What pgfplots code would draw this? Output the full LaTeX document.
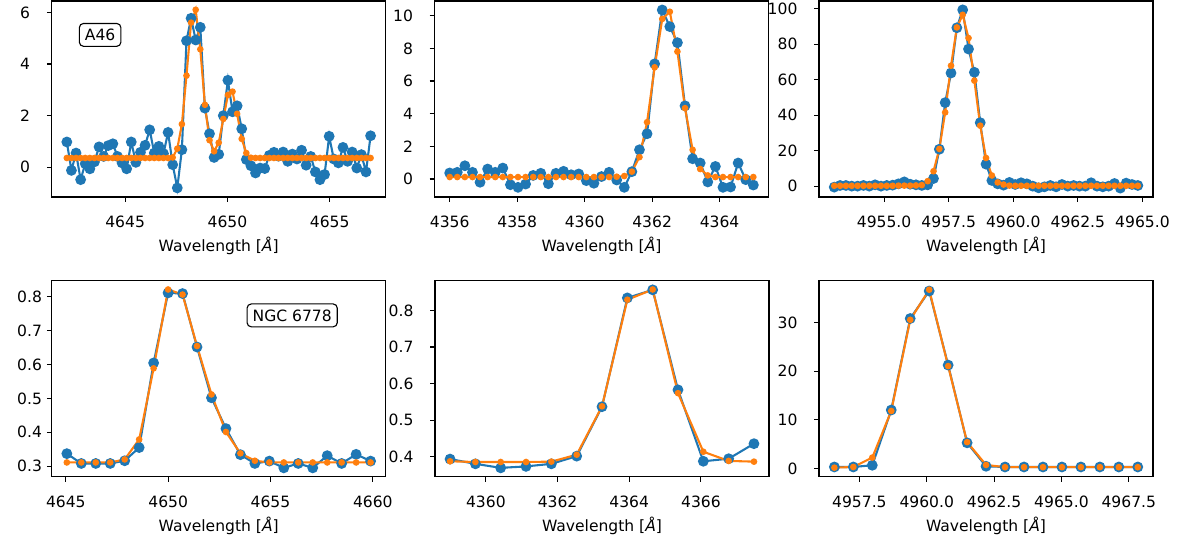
\documentclass[border=0pt]{standalone}
\usepackage{fontspec}
\setmainfont{DejaVu Sans}
\usepackage{pgfplots}
\usepackage{pgfplotstable}
\pgfplotsset{compat=1.18}
\definecolor{c0}{RGB}{31,119,180}
\definecolor{c1}{RGB}{255,127,14}

% observed spectrum (obs) and fitted model (fit)
\pgfplotstableread{
x obs fit
4642.150 0.98 0.36
4642.375 -0.12 0.36
4642.600 0.55 0.36
4642.825 -0.48 0.36
4643.050 0.14 0.36
4643.275 -0.06 0.36
4643.500 0.21 0.36
4643.725 0.79 0.36
4643.950 0.42 0.36
4644.175 0.84 0.36
4644.400 0.91 0.36
4644.625 0.42 0.36
4644.850 0.17 0.36
4645.075 -0.06 0.36
4645.300 0.98 0.36
4645.525 0.19 0.36
4645.750 0.58 0.36
4645.975 0.85 0.36
4646.200 1.45 0.36
4646.425 0.55 0.36
4646.650 0.81 0.36
4646.875 0.53 0.36
4647.100 1.35 0.36
4647.325 0.10 0.38
4647.550 -0.80 0.72
4647.775 0.68 1.67
4648.000 4.90 3.55
4648.225 5.77 5.60
4648.450 4.93 6.10
4648.675 5.42 4.57
4648.900 2.29 2.42
4649.125 1.30 1.05
4649.350 0.38 0.62
4649.575 0.50 0.95
4649.800 2.00 1.87
4650.025 3.37 2.80
4650.250 2.15 2.93
4650.475 2.38 2.07
4650.700 1.49 1.10
4650.925 0.30 0.55
4651.150 0.06 0.37
4651.375 -0.22 0.36
4651.600 -0.03 0.36
4651.825 -0.05 0.36
4652.050 0.46 0.36
4652.275 0.58 0.36
4652.500 0.43 0.36
4652.725 0.59 0.36
4652.950 0.23 0.36
4653.175 0.51 0.36
4653.400 0.32 0.36
4653.625 0.66 0.36
4653.850 0.08 0.36
4654.075 0.42 0.36
4654.300 -0.18 0.36
4654.525 -0.48 0.36
4654.750 -0.28 0.36
4654.975 1.20 0.36
4655.200 0.32 0.36
4655.425 0.17 0.36
4655.650 0.77 0.36
4655.875 0.23 0.36
4656.100 0.59 0.36
4656.325 -0.03 0.36
4656.550 0.49 0.36
4656.775 -0.18 0.36
4657.000 1.22 0.36
}\tabA

\pgfplotstableread{
x obs fit
4356.000 0.37 0.12
4356.225 0.41 0.12
4356.450 0.81 0.12
4356.675 0.41 0.12
4356.900 -0.20 0.12
4357.125 0.61 0.12
4357.350 0.41 0.12
4357.575 0.67 0.12
4357.800 -0.35 0.12
4358.025 -0.51 0.12
4358.250 -0.31 0.12
4358.475 0.22 0.12
4358.700 0.35 0.12
4358.925 -0.29 0.12
4359.150 0.35 0.12
4359.375 0.47 0.12
4359.600 0.26 0.12
4359.825 0.31 0.12
4360.050 -0.10 0.12
4360.275 -0.26 0.12
4360.500 0.15 0.12
4360.725 0.41 0.12
4360.950 -0.06 0.14
4361.175 -0.51 0.18
4361.400 0.45 0.45
4361.625 1.79 1.34
4361.850 2.77 3.48
4362.075 7.05 6.84
4362.300 10.35 9.80
4362.525 9.33 10.24
4362.750 8.35 7.80
4362.975 4.48 4.34
4363.200 1.24 1.79
4363.425 0.98 0.61
4363.650 -0.18 0.22
4363.875 0.77 0.12
4364.100 -0.51 0.12
4364.325 -0.49 0.12
4364.550 0.98 0.12
4364.775 -0.04 0.12
4365.000 -0.37 0.12
}\tabB

\pgfplotstableread{
x obs fit
4953.070 -0.56 0.2
4953.296 0.38 0.2
4953.522 0.38 0.2
4953.748 0.00 0.2
4953.974 0.00 0.2
4954.200 0.40 0.2
4954.426 0.00 0.2
4954.652 0.75 0.2
4954.878 0.00 0.2
4955.104 0.40 0.2
4955.330 0.56 0.2
4955.556 1.30 0.3
4955.782 2.40 0.3
4956.008 1.10 0.3
4956.234 0.75 0.4
4956.460 0.40 0.6
4956.686 0.75 2.8
4956.912 4.30 8.4
4957.138 20.8 21.0
4957.364 47.1 41.6
4957.590 63.8 67.9
4957.816 89.3 89.5
4958.042 99.4 96.6
4958.268 77.3 83.5
4958.494 64.2 59.5
4958.720 35.8 34.1
4958.946 12.4 15.9
4959.172 3.20 6.0
4959.398 1.30 2.1
4959.624 0.56 0.9
4959.850 2.10 0.3
4960.076 0.94 0.2
4960.302 1.90 0.2
4960.528 1.30 0.2
4960.754 0.00 0.2
4960.980 -0.94 0.2
4961.206 -0.38 0.2
4961.432 0.38 0.2
4961.658 -0.38 0.2
4961.884 0.94 0.2
4962.110 0.00 0.2
4962.336 0.38 0.2
4962.562 0.00 0.2
4962.788 0.00 0.2
4963.014 1.90 0.2
4963.240 0.00 0.2
4963.466 -0.38 0.2
4963.692 0.00 0.2
4963.918 1.50 0.2
4964.144 -1.10 0.2
4964.370 1.70 0.2
4964.596 0.94 0.2
4964.822 0.38 0.2
}\tabC

\pgfplotstableread{
x obs fit
4645.050 0.337 0.311
4645.757 0.308 0.311
4646.463 0.308 0.311
4647.170 0.308 0.311
4647.877 0.316 0.320
4648.584 0.355 0.379
4649.290 0.605 0.589
4649.997 0.812 0.822
4650.704 0.810 0.807
4651.410 0.652 0.655
4652.117 0.502 0.512
4652.824 0.411 0.401
4653.530 0.334 0.338
4654.237 0.308 0.316
4654.944 0.315 0.311
4655.651 0.295 0.311
4656.357 0.308 0.311
4657.064 0.295 0.311
4657.771 0.331 0.311
4658.477 0.308 0.311
4659.184 0.335 0.311
4659.891 0.315 0.311
}\tabD

\pgfplotstableread{
x obs fit
4359.000 0.394 0.388
4359.707 0.381 0.386
4360.413 0.370 0.386
4361.120 0.374 0.386
4361.827 0.381 0.387
4362.534 0.402 0.406
4363.240 0.537 0.538
4363.947 0.834 0.829
4364.654 0.856 0.857
4365.360 0.583 0.574
4366.067 0.388 0.414
4366.774 0.395 0.389
4367.480 0.436 0.387
}\tabE

\pgfplotstableread{
x obs fit
4956.570 0.34 0.20
4957.274 0.34 0.34
4957.978 0.69 2.27
4958.682 12.04 11.84
4959.386 30.83 30.56
4960.090 36.48 36.75
4960.794 21.27 21.06
4961.498 5.30 5.44
4962.202 0.48 0.76
4962.906 0.34 0.30
4963.610 0.34 0.30
4964.314 0.34 0.30
4965.018 0.34 0.30
4965.722 0.34 0.30
4966.426 0.34 0.30
4967.130 0.34 0.30
4967.834 0.34 0.30
}\tabF

\pgfplotsset{
  panel/.style={
    scale only axis, width=240.5pt, height=141.1pt, anchor=north west,
    axis line style={line width=0.8pt},
    tick align=outside, major tick length=3.5pt,
    tick style={black, line width=0.8pt},
    xtick pos=lower, ytick pos=left,
    /pgf/number format/assume math mode=true,
    /pgf/number format/1000 sep={},
    tick label style={font=\fontsize{11.2}{13}\selectfont},
    xticklabel style={yshift=-6.5pt},
    yticklabel style={xshift=-8.5pt},
    label style={font=\fontsize{11.2}{13}\selectfont},
    xlabel style={yshift=0pt},
    xlabel={Wavelength [\textit{Å}]},
  },
  obs/.style={c0, line width=1.5pt, mark=*, mark size=3.1pt, mark options={c0}},
  fit/.style={c1, line width=1.5pt, mark=*, mark size=1.6pt, mark options={c1}},
}
\tikzset{
  tbox/.style={draw=black, fill=white, rounded corners=3pt, line width=0.8pt,
    inner sep=4pt, font=\fontsize{11.2}{13}\selectfont},
}

\begin{document}
\begin{tikzpicture}
\useasboundingbox (0,0) rectangle (848.88pt,-389.52pt);

\begin{axis}[panel, at={(37.22pt,-0.72pt)},
  xmin=4641.41, xmax=4657.74, ymin=-1.15, ymax=6.44,
  xtick={4645,4650,4655}, ytick={0,2,4,6}]
\addplot[obs] table[x=x,y=obs] {\tabA};
\addplot[fit] table[x=x,y=fit] {\tabA};
\node[tbox] at (rel axis cs:0.145,0.827) {A46};
\end{axis}

\begin{axis}[panel, at={(312.84pt,-0.72pt)},
  xmin=4355.55, xmax=4365.45, ymin=-1.1, ymax=10.9,
  xtick={4356,4358,4360,4362,4364}, ytick={0,2,4,6,8,10}]
\addplot[obs] table[x=x,y=obs] {\tabB};
\addplot[fit] table[x=x,y=fit] {\tabB};
\end{axis}

\begin{axis}[panel, at={(589.68pt,-0.72pt)},
  xmin=4952.48, xmax=4965.41, ymin=-6.1, ymax=104.4,
  xtick={4955,4957.5,4960,4962.5,4965}, ytick={0,20,40,60,80,100},
  xticklabel style={/pgf/number format/.cd, fixed, fixed zerofill, precision=1}]
\addplot[obs] table[x=x,y=obs] {\tabC};
\addplot[fit] table[x=x,y=fit] {\tabC};
\end{axis}

\begin{axis}[panel, at={(37.22pt,-202.10pt)},
  xmin=4644.31, xmax=4660.63, ymin=0.269, ymax=0.848,
  xtick={4645,4650,4655,4660}, ytick={0.3,0.4,0.5,0.6,0.7,0.8},
  yticklabel style={xshift=8.5pt, /pgf/number format/.cd, fixed, fixed zerofill, precision=1}]
\addplot[obs] table[x=x,y=obs] {\tabD};
\addplot[fit] table[x=x,y=fit] {\tabD};
\node[tbox] at (rel axis cs:0.72,0.823) {NGC 6778};
\end{axis}

\begin{axis}[panel, at={(313.2pt,-202.10pt)},
  xmin=4358.58, xmax=4367.90, ymin=0.346, ymax=0.881,
  xtick={4360,4362,4364,4366}, ytick={0.4,0.5,0.6,0.7,0.8},
  yticklabel style={/pgf/number format/.cd, fixed, fixed zerofill, precision=1}]
\addplot[obs] table[x=x,y=obs] {\tabE};
\addplot[fit] table[x=x,y=fit] {\tabE};
\end{axis}

\begin{axis}[panel, at={(589.68pt,-202.10pt)},
  xmin=4956.0, xmax=4968.4, ymin=-1.65, ymax=38.6,
  xtick={4957.5,4960,4962.5,4965,4967.5}, ytick={0,10,20,30},
  xticklabel style={/pgf/number format/.cd, fixed, fixed zerofill, precision=1}]
\addplot[obs] table[x=x,y=obs] {\tabF};
\addplot[fit] table[x=x,y=fit] {\tabF};
\end{axis}
\end{tikzpicture}
\end{document}
